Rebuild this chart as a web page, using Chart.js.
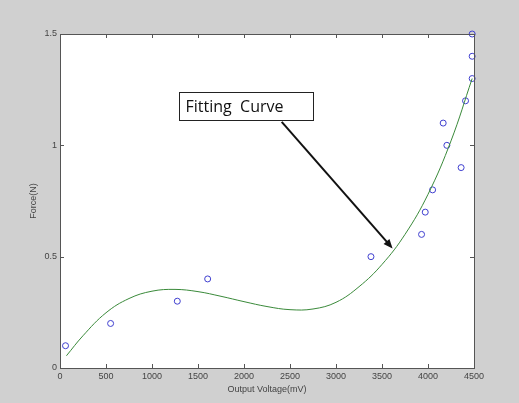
<!DOCTYPE html>
<html>
<head>
<meta charset="utf-8">
<script src="https://cdn.jsdelivr.net/npm/chart.js@4"></script>
<style>
  html, body { margin: 0; padding: 0; background: #d0d0d0; }
  #wrap { width: 519px; height: 403px; }
</style>
</head>
<body>
<div id="wrap"><canvas id="forceChart" width="519" height="403"></canvas></div>
<script>
// measured points (voltage in mV, force in N)
const voltage = [60, 550, 1275, 1605, 3380, 3930, 3970, 4050, 4360, 4205, 4165, 4408, 4480, 4480, 4480];
const force   = [0.1, 0.2, 0.3, 0.4, 0.5, 0.6, 0.7, 0.8, 0.9, 1.0, 1.1, 1.2, 1.3, 1.4, 1.5];

// fitted curve
const fitVoltage = [70, 250, 500, 750, 1000, 1250, 1500, 1750, 2000, 2250, 2500, 2750, 3000, 3250, 3500, 3750, 4000, 4250, 4480];
const fitForce   = [0.055, 0.145, 0.248, 0.312, 0.345, 0.353, 0.343, 0.322, 0.298, 0.276, 0.262, 0.265, 0.295, 0.365, 0.465, 0.6, 0.78, 1.02, 1.3];

const xTicks = [0, 500, 1000, 1500, 2000, 2500, 3000, 3500, 4000, 4500];
const xTickLabels = ['0', '500', '1000', '1500', '2000', '2500', '3000', '3500', '4000', '4500'];
const yTicks = [0, 0.5, 1, 1.5];
const yTickLabels = ['0', '0.5', '1', '1.5'];

const noteText = 'Fitting  Curve';
const noteBox = { x1: 1290, y1: 1.24, x2: 2742, y2: 1.114 };   // data units
const noteArrow = { x1: 2410, y1: 1.105, x2: 3615, y2: 0.537 };

const tickFont = { family: 'Liberation Sans', size: 9 };
const tickColor = '#444';

// box around the axes + inward ticks on all four sides, MATLAB style
const axesBox = {
    id: 'axesBox',
    afterDatasetsDraw(chart) {
        const { ctx, chartArea: a, scales } = chart;
        ctx.save();
        ctx.strokeStyle = '#555';
        ctx.lineWidth = 1;
        ctx.strokeRect(a.left + 0.5, a.top + 0.5, a.right - a.left, a.bottom - a.top);
        ctx.beginPath();
        xTicks.forEach(v => {
            const px = Math.round(scales.x.getPixelForValue(v)) + 0.5;
            ctx.moveTo(px, a.bottom); ctx.lineTo(px, a.bottom - 4);
            ctx.moveTo(px, a.top); ctx.lineTo(px, a.top + 4);
        });
        yTicks.forEach(v => {
            const py = Math.round(scales.y.getPixelForValue(v)) + 0.5;
            ctx.moveTo(a.left, py); ctx.lineTo(a.left + 4, py);
            ctx.moveTo(a.right, py); ctx.lineTo(a.right - 4, py);
        });
        ctx.stroke();
        ctx.restore();
    }
};

// text box with arrow pointing at the fitted line
const annotation = {
    id: 'annotation',
    afterDraw(chart) {
        const { ctx, scales } = chart;
        const X = v => scales.x.getPixelForValue(v);
        const Y = v => scales.y.getPixelForValue(v);
        ctx.save();
        const bx = Math.round(X(noteBox.x1)) + 0.5, by = Math.round(Y(noteBox.y1)) + 0.5;
        const bw = Math.round(X(noteBox.x2) - X(noteBox.x1)), bh = Math.round(Y(noteBox.y2) - Y(noteBox.y1));
        ctx.fillStyle = '#fff';
        ctx.fillRect(bx, by, bw, bh);
        ctx.strokeStyle = '#222';
        ctx.lineWidth = 1;
        ctx.strokeRect(bx, by, bw, bh);
        ctx.fillStyle = '#111';
        ctx.font = '16px "Open Sans"';
        ctx.textBaseline = 'middle';
        ctx.fillText(noteText, bx + 6, by + bh / 2 + 1);

        const ax1 = X(noteArrow.x1), ay1 = Y(noteArrow.y1);
        const ax2 = X(noteArrow.x2), ay2 = Y(noteArrow.y2);
        const ang = Math.atan2(ay2 - ay1, ax2 - ax1);
        ctx.strokeStyle = '#111';
        ctx.lineWidth = 2;
        ctx.beginPath();
        ctx.moveTo(ax1, ay1);
        ctx.lineTo(ax2 - 6 * Math.cos(ang), ay2 - 6 * Math.sin(ang));
        ctx.stroke();
        ctx.fillStyle = '#111';
        ctx.beginPath();
        ctx.moveTo(ax2, ay2);
        ctx.lineTo(ax2 - 10 * Math.cos(ang - 0.4), ay2 - 10 * Math.sin(ang - 0.4));
        ctx.lineTo(ax2 - 10 * Math.cos(ang + 0.4), ay2 - 10 * Math.sin(ang + 0.4));
        ctx.closePath();
        ctx.fill();
        ctx.restore();
    }
};

const whiteArea = {
    id: 'whiteArea',
    beforeDraw(chart) {
        const { ctx, chartArea: a } = chart;
        ctx.save();
        ctx.fillStyle = '#d0d0d0';
        ctx.fillRect(0, 0, chart.width, chart.height);
        ctx.fillStyle = '#fff';
        ctx.fillRect(a.left, a.top, a.right - a.left, a.bottom - a.top);
        ctx.restore();
    }
};

function createChart() {
    const ctx = document.getElementById('forceChart').getContext('2d');
    new Chart(ctx, {
        type: 'scatter',
        data: {
            datasets: [
                {
                    label: 'fit',
                    type: 'line',
                    data: fitVoltage.map((v, i) => ({ x: v, y: fitForce[i] })),
                    borderColor: '#3a8a3a',
                    borderWidth: 1,
                    pointRadius: 0,
                    tension: 0.4,
                    fill: false
                },
                {
                    label: 'measured',
                    data: voltage.map((v, i) => ({ x: v, y: force[i] })),
                    borderColor: '#4040d0',
                    backgroundColor: 'rgba(0,0,0,0)',
                    borderWidth: 1,
                    pointRadius: 3,
                    clip: false
                }
            ]
        },
        options: {
            responsive: false,
            animation: false,
            layout: { padding: { left: 28, top: 34, right: 45, bottom: 8 } },
            plugins: { legend: { display: false }, tooltip: { enabled: false } },
            scales: {
                x: {
                    type: 'linear',
                    min: 0, max: 4500,
                    afterBuildTicks: s => { s.ticks = xTicks.map(v => ({ value: v })); },
                    afterFit: s => { s.height = 27; },
                    grid: { display: false, drawTicks: false },
                    border: { display: false },
                    ticks: {
                        font: tickFont, color: tickColor, padding: 3, maxRotation: 0,
                        callback: v => xTickLabels[xTicks.indexOf(v)]
                    },
                    title: {
                        display: true, text: 'Output Voltage(mV)',
                        font: tickFont, color: tickColor, padding: { top: 1, bottom: 0 }
                    }
                },
                y: {
                    type: 'linear',
                    min: 0, max: 1.5,
                    afterBuildTicks: s => { s.ticks = yTicks.map(v => ({ value: v })); },
                    afterFit: s => { s.width = 32; },
                    grid: { display: false, drawTicks: false },
                    border: { display: false },
                    ticks: {
                        font: tickFont, color: tickColor, padding: 3,
                        callback: v => yTickLabels[yTicks.indexOf(v)]
                    },
                    title: {
                        display: true, text: 'Force(N)',
                        font: tickFont, color: tickColor, padding: { top: 0, bottom: 0 }
                    }
                }
            }
        },
        plugins: [whiteArea, axesBox, annotation]
    });
}

window.onload = function() {
    createChart();
};
</script>
</body>
</html>
